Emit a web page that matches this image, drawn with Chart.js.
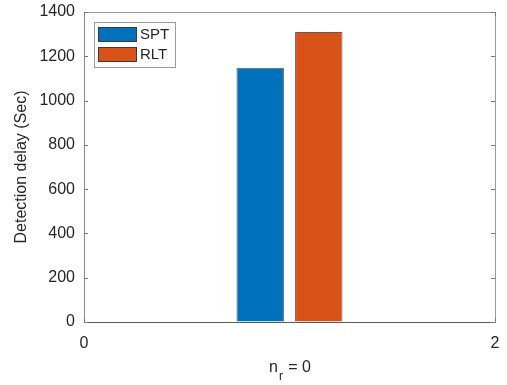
<!DOCTYPE html>
<html><head><meta charset="utf-8">
<script src="https://cdn.jsdelivr.net/npm/chart.js@4.4.0/dist/chart.umd.min.js"></script>
<style>html,body{margin:0;padding:0;background:#fff}#wrap{width:507px;height:385px}</style>
</head><body><div id="wrap"><canvas id="c" width="507" height="385"></canvas></div>
<script>
const categories = [1];
const seriesNames = ['SPT', 'RLT'];
const sptValues = [1148];
const rltValues = [1310];
const yTicks = [0, 200, 400, 600, 800, 1000, 1200, 1400];
const xTicks = [0, 2];
const yTitle = 'Detection delay (Sec)';
const xTitleMain = 'n', xTitleSub = 'r', xTitleRest = ' = 0';

const FONT = '"Liberation Sans", Arial, Helvetica, sans-serif';
const TXT = '#262626';

const boxPlugin = {
  id: 'boxPlugin',
  afterDraw(chart) {
    const ctx = chart.ctx, a = chart.chartArea;
    const ys = chart.scales.y, xs = chart.scales.x;
    ctx.save();
    ctx.strokeStyle = '#9a9a9a';
    ctx.lineWidth = 1;
    ctx.beginPath();
    ctx.moveTo(Math.round(a.left) + 0.5, Math.round(a.top) + 0.5);
    ctx.lineTo(Math.round(a.right) + 0.5, Math.round(a.top) + 0.5);
    ctx.lineTo(Math.round(a.right) + 0.5, Math.round(a.bottom) + 0.5);
    ctx.stroke();
    ctx.strokeStyle = '#7a7a7a';
    ctx.beginPath();
    yTicks.forEach(v => {
      const y = Math.round(ys.getPixelForValue(v)) + 0.5;
      ctx.moveTo(a.left, y); ctx.lineTo(a.left + 4, y);
      ctx.moveTo(a.right, y); ctx.lineTo(a.right - 4, y);
    });
    xTicks.forEach(v => {
      const x = Math.round(xs.getPixelForValue(v)) + 0.5;
      ctx.moveTo(x, a.bottom); ctx.lineTo(x, a.bottom - 4);
      ctx.moveTo(x, a.top); ctx.lineTo(x, a.top + 4);
    });
    ctx.stroke();
    ctx.fillStyle = TXT;
    ctx.textBaseline = 'alphabetic';
    const mainF = '16px ' + FONT, subF = '12px ' + FONT;
    ctx.font = mainF; const w1 = ctx.measureText(xTitleMain).width; const w3 = ctx.measureText(xTitleRest).width;
    ctx.font = subF; const w2 = ctx.measureText(xTitleSub).width + 1;
    const cx = (a.left + a.right) / 2;
    let x = cx - (w1 + w2 + w3) / 2;
    const base = a.bottom + 50;
    ctx.textAlign = 'left';
    ctx.font = mainF; ctx.fillText(xTitleMain, x, base); x += w1 + 1;
    ctx.font = subF; ctx.fillText(xTitleSub, x, base + 8); x += w2;
    ctx.font = mainF; ctx.fillText(xTitleRest, x, base);
    const lx = a.left + 10, ly = a.top + 10;
    const bw = 81, bh = 45;
    ctx.fillStyle = '#fff';
    ctx.fillRect(lx, ly, bw, bh);
    ctx.strokeStyle = '#9a9a9a';
    ctx.strokeRect(lx + 0.5, ly + 0.5, bw, bh);
    chart.data.datasets.forEach((ds, i) => {
      const py = ly + 5 + i * 20;
      ctx.fillStyle = ds.backgroundColor;
      ctx.fillRect(lx + 4, py, 39, 15);
      ctx.strokeStyle = '#3a3a3a';
      ctx.strokeRect(lx + 4.5, py + 0.5, 38, 14);
      ctx.fillStyle = TXT;
      ctx.font = '15px ' + FONT;
      ctx.textBaseline = 'middle';
      ctx.fillText(ds.label, lx + 46, py + 8);
    });
    ctx.restore();
  }
};

const colors = ['#0072BD', '#D95319'];
const seriesData = [sptValues, rltValues];

new Chart(document.getElementById('c'), {
  type: 'bar',
  data: {
    datasets: seriesNames.map((n, i) => ({
      label: n,
      data: categories.map((c, j) => ({ x: c, y: seriesData[i][j] })),
      backgroundColor: colors[i],
      borderColor: 'rgba(40,40,40,0.75)',
      borderWidth: 1,
      categoryPercentage: 0.285,
      barPercentage: 0.81
    }))
  },
  options: {
    responsive: false,
    animation: false,
    layout: { padding: { top: 12, right: 12, left: 0, bottom: 0 } },
    plugins: { legend: { display: false }, tooltip: { enabled: false } },
    scales: {
      x: {
        type: 'linear', min: 0, max: 2, offset: false,
        afterBuildTicks: s => { s.ticks = xTicks.map(v => ({ value: v })); },
        afterFit: s => { s.height = 63; s.paddingLeft = 0; s.paddingRight = 0; },
        grid: { display: true, drawOnChartArea: false, drawTicks: false, offset: false },
        border: { display: true, color: '#5a5a5a', width: 1 },
        ticks: { padding: 12, color: TXT, font: { family: FONT, size: 16 }, maxRotation: 0, callback: v => String(v) }
      },
      y: {
        min: 0, max: 1400,
        afterBuildTicks: s => { s.ticks = yTicks.map(v => ({ value: v })); },
        afterFit: s => { s.width = 84; s.paddingTop = 0; s.paddingBottom = 0; },
        grid: { display: true, drawOnChartArea: false, drawTicks: false },
        border: { display: true, color: '#8a8a8a', width: 1 },
        ticks: { padding: 9, color: TXT, font: { family: FONT, size: 16 }, callback: v => String(v) },
        title: { display: true, text: yTitle, color: TXT, font: { family: FONT, size: 16 }, padding: { top: 12, bottom: 0 } }
      }
    }
  },
  plugins: [boxPlugin]
});
</script></body></html>
